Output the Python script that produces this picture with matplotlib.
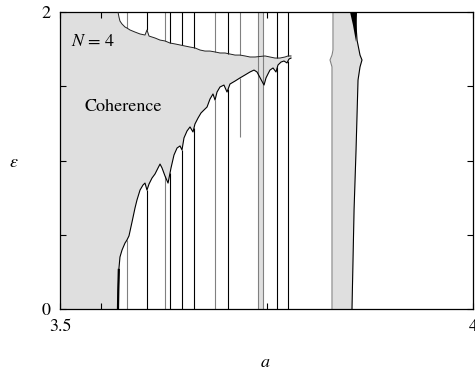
import numpy as np
import matplotlib
matplotlib.use("Agg")
import matplotlib.pyplot as plt

plt.rcParams['font.family'] = ['STIXGeneral', 'DejaVu Serif']
plt.rcParams['mathtext.fontset'] = 'stix'

# lower edge of the coherence region: coupling eps versus parameter a
low_a = [3.5702, 3.5706, 3.5712, 3.5726, 3.5751, 3.5787, 3.5811, 3.5835, 3.5872, 3.5908,
         3.5932, 3.5969, 3.6005, 3.6029, 3.6053, 3.6078, 3.6114, 3.6150, 3.6187, 3.6211,
         3.6235, 3.6271, 3.6308, 3.6344, 3.6380, 3.6417, 3.6453, 3.6477, 3.6501, 3.6538,
         3.6574, 3.6610, 3.6634, 3.6671, 3.6707, 3.6743, 3.6780, 3.6816, 3.6852, 3.6877,
         3.6901, 3.6937, 3.6985, 3.7022, 3.7058, 3.7119, 3.7179, 3.7240, 3.7300, 3.7349,
         3.7385, 3.7470, 3.7494, 3.7518, 3.7542, 3.7579, 3.7615, 3.7639, 3.7676, 3.7712,
         3.7748, 3.7772, 3.7797]
low_eps = [0.000, 0.128, 0.263, 0.350, 0.397, 0.444, 0.465, 0.492, 0.586, 0.680,
           0.734, 0.801, 0.835, 0.848, 0.801, 0.842, 0.882, 0.909, 0.950, 0.976,
           0.950, 0.896, 0.848, 0.950, 1.037, 1.084, 1.098, 1.071, 1.152, 1.199,
           1.226, 1.192, 1.246, 1.286, 1.320, 1.340, 1.360, 1.414, 1.448, 1.407,
           1.461, 1.495, 1.508, 1.461, 1.515, 1.535, 1.556, 1.576, 1.596, 1.609,
           1.596, 1.508, 1.556, 1.583, 1.609, 1.623, 1.596, 1.643, 1.663, 1.670,
           1.657, 1.683, 1.690]

# upper edge of the coherence region
up_a = [3.5702, 3.5714, 3.5726, 3.5751, 3.5787, 3.5811, 3.5847, 3.5908, 3.5969, 3.6029,
        3.6053, 3.6078, 3.6150, 3.6211, 3.6271, 3.6332, 3.6392, 3.6453, 3.6513, 3.6574,
        3.6634, 3.6695, 3.6755, 3.6816, 3.6877, 3.6937, 3.6998, 3.7058, 3.7119, 3.7179,
        3.7240, 3.7300, 3.7361, 3.7482, 3.7542, 3.7603, 3.7663, 3.7724, 3.7760, 3.7797]
up_eps = [2.000, 1.966, 1.939, 1.919, 1.899, 1.892, 1.879, 1.865, 1.852, 1.845,
          1.879, 1.838, 1.825, 1.811, 1.805, 1.791, 1.785, 1.778, 1.771, 1.764,
          1.758, 1.744, 1.737, 1.737, 1.731, 1.724, 1.724, 1.717, 1.710, 1.710,
          1.704, 1.697, 1.697, 1.704, 1.697, 1.690, 1.690, 1.697, 1.704, 1.704]

# narrow periodic windows (a value, lowest eps reached below the region)
win_a = [3.5811, 3.6053, 3.6271, 3.6332, 3.6477, 3.6622, 3.6877, 3.7034, 3.7179, 3.7633, 3.7757]
win_floor = [0.0, 0.0, 0.0, 0.0, 0.0, 0.0, 0.0, 0.0, 1.16, 0.0, 0.0]

# period-window band near a = 3.74 (full height)
band2_a = [3.7397, 3.7458]

# period-3 window band: left and right edges as functions of eps
band_eps = [0.000, 0.667, 1.071, 1.542, 1.630, 1.677, 1.710, 1.744, 1.811, 2.000]
band_left = [3.8293, 3.8293, 3.8293, 3.8293, 3.8293, 3.8269, 3.8293, 3.8305, 3.8305, 3.8305]
band_right = [3.8535, 3.8560, 3.8584, 3.8608, 3.8632, 3.8656, 3.8632, 3.8620, 3.8596, 3.8572]

# dark sliver at the top of that band
wedge_a = [3.8511, 3.8596, 3.8584, 3.8547]
wedge_eps = [2.000, 2.000, 1.798, 1.912]

FILL = '#dfdfdf'
GREY = '#808080'
win_color = [GREY, 'k', GREY, 'k', 'k', 'k', GREY, 'k', GREY, 'k', 'k']

fig = plt.figure(figsize=(4.75, 3.75), dpi=100)
ax = fig.add_axes([60 / 475, 66 / 375, 413 / 475, 297 / 375])

# coherence region
poly_a = np.concatenate([[3.5], low_a, up_a[::-1], [3.5]])
poly_e = np.concatenate([[0.0], low_eps, up_eps[::-1], [2.0]])
ax.fill(poly_a, poly_e, color=FILL, lw=0, zorder=1)

ax.axvspan(band2_a[0], band2_a[1], color=FILL, lw=0, zorder=1)
ax.vlines(band2_a, 0, 2, color=GREY, lw=0.8, zorder=2)

ax.fill_betweenx(band_eps, band_left, band_right, color=FILL, lw=0, zorder=1)
ax.plot(band_left, band_eps, color=GREY, lw=0.8, zorder=2)
ax.plot(band_right, band_eps, color='k', lw=0.8, zorder=2)
ax.fill(wedge_a, wedge_eps, color='k', lw=0, zorder=3)

for a, fl, c in zip(win_a, win_floor, win_color):
    lo = np.interp(a, low_a, low_eps)
    hi = np.interp(a, up_a, up_eps)
    ax.vlines(a, fl, lo, color=c, lw=0.8, zorder=2)
    ax.vlines(a, hi, 2.0, color=c, lw=0.8, zorder=2)

ax.plot(low_a, low_eps, color='k', lw=0.8, zorder=3)
# the edge is drawn heavier where it leaves the a axis
ax.plot(low_a[:3], low_eps[:3], color='k', lw=1.6, zorder=3)
ax.plot(up_a, up_eps, color='#222222', lw=0.7, zorder=3)

ax.set_xlim(3.5, 4.0)
ax.set_ylim(0, 2)
ax.set_xticks([3.5, 4.0])
ax.set_xticklabels(['3.5', '4'])
ax.set_xticks([3.55, 3.75], minor=True)
ax.set_yticks([0, 2])
ax.set_yticklabels(['0', '2'])
ax.set_yticks([0.5, 1.0, 1.5], minor=True)
ax.tick_params(which='both', direction='in', top=True, right=True,
               length=4.5, width=0.8, labelsize=13, color='k')
ax.tick_params(axis='x', pad=7)
ax.tick_params(axis='y', pad=7)
for s in ax.spines.values():
    s.set_linewidth(0.9)

ax.text(3.5400, 1.798, r'$N$ = 4', fontsize=13, ha='center', va='center')
ax.text(3.5763, 1.360, 'Coherence', fontsize=13, ha='center', va='center')

fig.text(265 / 475, 1 - 363 / 375, r'$a$', fontsize=13, ha='center', va='center')
fig.text(14 / 475, 1 - 163 / 375, r'$\varepsilon$', fontsize=13, ha='center', va='center')

fig.savefig('out.png', dpi=100)
